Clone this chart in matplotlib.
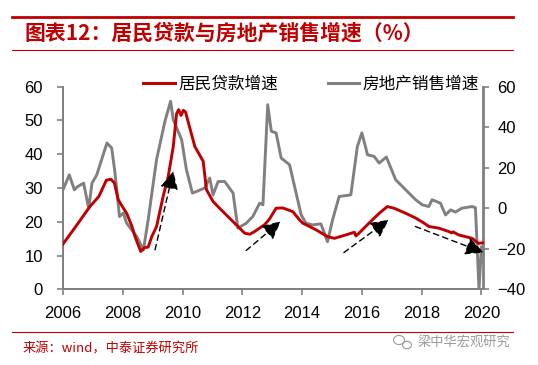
import matplotlib
matplotlib.use('Agg')
import matplotlib.pyplot as plt
from matplotlib.lines import Line2D
from matplotlib.patches import Ellipse

# --- Data (x in fractional years) ---
loan_years = [2006.0, 2006.5, 2006.9, 2007.2, 2007.45, 2007.6, 2007.72, 2007.85, 2008.0, 2008.13, 2008.3, 2008.41,
              2008.6, 2008.72, 2008.85, 2008.97, 2009.13, 2009.35, 2009.52, 2009.69, 2009.8, 2009.87, 2009.95,
              2010.03, 2010.1, 2010.41, 2010.69, 2010.8, 2011.02, 2011.24, 2011.58, 2011.91, 2012.08, 2012.25,
              2012.41, 2012.74, 2012.9, 2013.13, 2013.35, 2013.69, 2013.91, 2014.02, 2014.47, 2014.85, 2015.08,
              2015.5, 2015.75, 2015.8, 2015.9, 2016.24, 2016.58, 2016.85, 2017.08, 2017.47, 2017.8, 2018.08,
              2018.24, 2018.58, 2018.91, 2019.0, 2019.05, 2019.24, 2019.69, 2019.9, 2020.07]
loan_growth = [13.4, 19.5, 24.5, 27.5, 32.3, 32.6, 31.5, 26.5, 24.3, 22.5, 18.8, 15.6,
               11.2, 12.3, 12.5, 15.6, 18.6, 27.5, 33.4, 42.3, 52.0, 53.2, 51.5,
               53.0, 52.5, 42.3, 37.9, 29.5, 26.0, 24.0, 21.0, 18.1, 16.6, 16.3,
               17.1, 19.1, 20.7, 24.0, 24.1, 23.0, 20.6, 19.6, 17.6, 15.6, 15.1,
               16.2, 16.9, 15.8, 16.6, 19.6, 22.5, 24.5, 24.0, 22.5, 21.1, 19.6,
               18.6, 18.1, 17.1, 16.7, 17.0, 16.1, 15.1, 13.6, 13.8]

sales_years = [2006.0, 2006.21, 2006.38, 2006.49, 2006.69, 2006.86, 2006.97, 2007.13, 2007.47, 2007.63, 2007.74,
               2007.89, 2008.02, 2008.13, 2008.3, 2008.47, 2008.69, 2008.85, 2009.13, 2009.41, 2009.6, 2009.69,
               2009.97, 2010.13, 2010.33, 2010.47, 2010.74, 2010.91, 2011.02, 2011.19, 2011.41, 2011.69, 2011.85,
               2012.13, 2012.35, 2012.58, 2012.69, 2012.85, 2012.97, 2013.13, 2013.3, 2013.58, 2013.8, 2013.97,
               2014.13, 2014.35, 2014.63, 2014.85, 2015.02, 2015.24, 2015.63, 2015.85, 2016.0, 2016.19, 2016.41,
               2016.58, 2016.82, 2017.13, 2017.52, 2017.8, 2018.02, 2018.24, 2018.35, 2018.63, 2018.8, 2018.97,
               2019.13, 2019.35, 2019.69, 2019.8, 2019.92, 2020.0, 2020.07]
sales_growth = [9.1, 16.5, 9.1, 10.7, 12.4, 0.0, 12.4, 16.5, 32.2, 29.7, 17.4,
                -4.1, -2.4, -7.4, -10.7, -14.0, -20.6, -5.7, 24.0, 42.9, 52.8, 43.7,
                33.8, 19.0, 7.5, 8.3, 10.0, 14.9, 6.6, 13.2, 13.2, 7.5, -9.8,
                -7.4, -4.1, 2.5, 1.7, 51.1, 38.0, 37.2, 24.8, 21.5, 7.5, -3.3,
                -7.4, -8.2, -7.7, -16.5, -5.7, 5.8, 6.6, 30.5, 37.2, 26.4, 25.6,
                22.3, 25.3, 14.1, 8.3, 4.2, 1.7, 0.85, 4.2, 2.5, -3.3, -0.8,
                -1.9, 0.06, 0.85, 0.3, -40.0, -19.0, -20.0]

# dashed trend arrows: (start, tip) in (year, left-axis value)
arrow_starts = [(2009.08, 11.7), (2012.13, 11.5), (2015.4, 10.9), (2017.79, 18.6)]
arrow_tips = [(2009.69, 35.0), (2013.28, 20.1), (2016.9, 20.6), (2020.07, 10.9)]

x_ticks = [2006, 2008, 2010, 2012, 2014, 2016, 2018, 2020]
left_ticks = [0, 10, 20, 30, 40, 50, 60]
right_ticks = [-40, -20, 0, 20, 40, 60]

title = '图表12：居民贷款与房地产销售增速（%）'
source = '来源：wind，中泰证券研究所'
label_loan = '居民贷款增速'; label_sales = '房地产销售增速'

RED = '#C00000'; GRAY = '#808080'; CJK = 'Noto Sans CJK SC'
plt.rcParams['font.family'] = ['Liberation Sans', CJK]

fig = plt.figure(figsize=(5.38, 3.65), dpi=100)
ax = fig.add_axes([63 / 538, 1 - 289.3 / 365, (483.5 - 63) / 538, (289.3 - 86.7) / 365])
ax2 = ax.twinx()

ax.plot(loan_years, loan_growth, color=RED, lw=2.1, zorder=3)
ax2.plot(sales_years, sales_growth, color=GRAY, lw=2.1, zorder=2)
ax.set_zorder(ax2.get_zorder() + 1); ax.patch.set_visible(False)

for s, t in zip(arrow_starts, arrow_tips):
    ax.annotate('', xy=t, xytext=s,
                arrowprops=dict(arrowstyle='-|>,head_length=0.5,head_width=0.25', color='black', lw=1.0,
                                ls=(0, (4, 3)), mutation_scale=22, shrinkA=0, shrinkB=0))

ax.set_xlim(2006, 2020.07); ax.set_ylim(0, 60); ax2.set_ylim(-40, 60)
ax.set_xticks(x_ticks); ax.set_yticks(left_ticks); ax2.set_yticks(right_ticks)
ax.tick_params(axis='x', length=4, width=1.2, color=GRAY, pad=8, labelsize=12)
ax.tick_params(axis='y', length=4, width=1.2, color=GRAY, pad=10.5, labelsize=12)
ax2.tick_params(axis='y', length=4, width=1.2, color=GRAY, pad=6, labelsize=12)
for a in (ax, ax2):
    a.spines['top'].set_visible(False)
    for sp in ('left', 'right', 'bottom'):
        a.spines[sp].set_color(GRAY); a.spines[sp].set_linewidth(1.3)

# --- Legend ---
handles = [Line2D([], [], color=RED, lw=2.2), Line2D([], [], color=GRAY, lw=2.2)]
fig.legend(handles, [label_loan, label_sales], ncol=2, loc='center left', bbox_to_anchor=(143 / 538, 1 - 84 / 365),
           frameon=False, prop={'family': CJK, 'size': 12}, handlelength=1.9, handletextpad=0.2,
           columnspacing=3.0, borderpad=0, borderaxespad=0)

# --- Title, rules, source, watermark ---
fig.add_artist(Line2D([12 / 538, 513 / 538], [1 - 16.7 / 365] * 2, color=RED, lw=2.0))
fig.add_artist(Line2D([12 / 538, 513 / 538], [1 - 50 / 365] * 2, color=RED, lw=0.8))
fig.add_artist(Line2D([12 / 538, 513 / 538], [1 - 331.7 / 365] * 2, color=RED, lw=0.8))
fig.text(25 / 538, 1 - 33 / 365, title, family=CJK, fontsize=15, fontweight='bold', color=RED, va='center')
fig.text(23 / 538, 1 - 349 / 365, source, family=CJK, fontsize=9.5, color=RED, va='center')
fig.text(418 / 538, 1 - 342 / 365, '梁中华宏观研究', family=CJK, fontsize=9.5, color='#9a9a9a', va='center')
fig.add_artist(Ellipse((399 / 538, 1 - 340 / 365), 11 / 538, 9 / 365, fill=False, ec='#9a9a9a', lw=0.8))
fig.add_artist(Ellipse((407 / 538, 1 - 345 / 365), 9 / 538, 7.5 / 365, fill=False, ec='#9a9a9a', lw=0.8))

fig.savefig('out.png', dpi=100)
